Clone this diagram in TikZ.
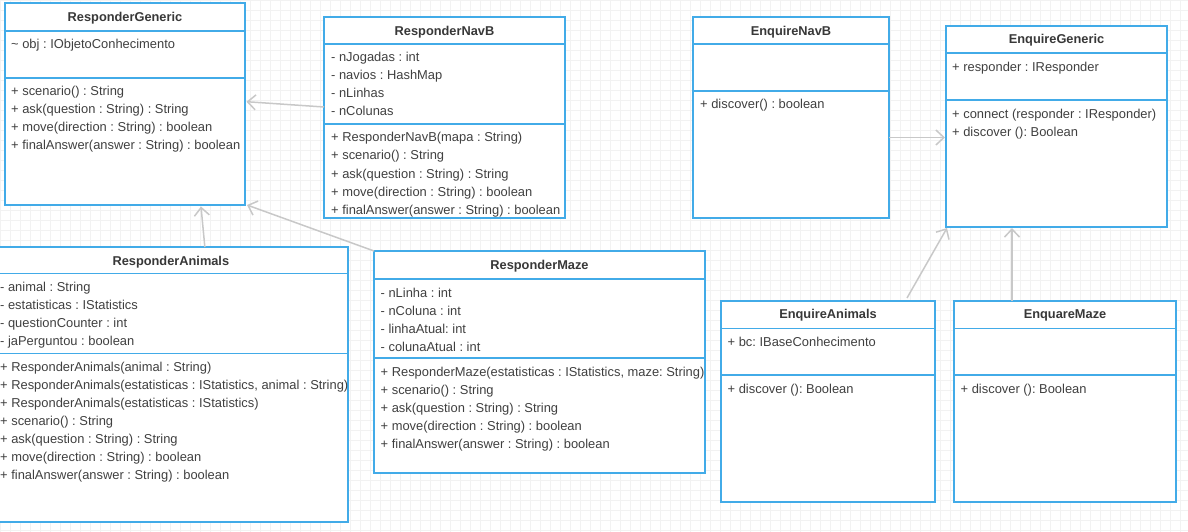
\documentclass[tikz,border=0pt]{standalone}
\usepackage{fontspec}
\setmainfont{Liberation Sans}
\usetikzlibrary{arrows.meta,calc}
\definecolor{umlblue}{RGB}{66,171,232}
\definecolor{linkgray}{RGB}{200,200,200}
\definecolor{gridgray}{RGB}{242,242,242}
\definecolor{textgray}{RGB}{64,64,64}
\frenchspacing

\begin{document}
\begin{tikzpicture}
    [x=1pt, y=-1pt,
    umlclass/.style={rectangle, draw=umlblue, line width=1.6pt, fill=white,
    anchor=north west, inner sep=0pt, outer sep=0pt},
    classname/.style={anchor=base, inner sep=0pt, text=black!78,
    font=\fontsize{12.8}{15}\selectfont\bfseries},
    member/.style={anchor=base west, inner sep=0pt, text=textgray,
    font=\fontsize{12.9}{15}\selectfont},
    compline/.style={draw=umlblue, line width=1.6pt},
    link/.style={draw=linkgray, line width=1.5pt,
    -{Straight Barb[length=8pt,width=15pt]}}]

    \useasboundingbox (0,0) rectangle (1188,532);
    \clip (0,0) rectangle (1188,532);
    \draw[gridgray, step=10pt] (0,532) grid (1188,0);

    % responder side
    \node [umlclass, minimum width=240pt, minimum height=202pt] (rg) at (5,3) {};
    \node [classname] (rg-t) at ($(rg.north)+(0,18.5)$) {ResponderGeneric};
    \draw [compline] ($(rg.north west)+(0,28)$) -- ($(rg.north east)+(0,28)$);
    \draw [compline] ($(rg.north west)+(0,75)$) -- ($(rg.north east)+(0,75)$);
    \node [member] (rg-a1) at ($(rg.north west)+(6,45.5)$) {\textasciitilde{} obj : IObjetoConhecimento};
    \foreach \m [count=\i] in {{+ scenario() : String}, {+ ask(question : String) : String},
        {+ move(direction : String) : boolean}, {+ finalAnswer(answer : String) : boolean}}
        \node [member] (rg-m\i) at ($(rg.north west)+(6,74.5+18*\i)$) {\m};

    \node [umlclass, minimum width=241pt, minimum height=201pt] (rnb) at (324,17) {};
    \node [classname] (rnb-t) at ($(rnb.north)+(0,18.3)$) {ResponderNavB};
    \draw [compline] ($(rnb.north west)+(0,27)$) -- ($(rnb.north east)+(0,27)$);
    \draw [compline] ($(rnb.north west)+(0,107)$) -- ($(rnb.north east)+(0,107)$);
    \foreach \m [count=\i] in {{- nJogadas : int}, {- navios : HashMap}, {- nLinhas}, {- nColunas}}
        \node [member] (rnb-a\i) at ($(rnb.north west)+(7,27+18*\i)$) {\m};
    \foreach \m [count=\i] in {{+ ResponderNavB(mapa : String)}, {+ scenario() : String},
        {+ ask(question : String) : String}, {+ move(direction : String) : boolean},
        {+ finalAnswer(answer : String) : boolean}}
        \node [member] (rnb-m\i) at ($(rnb.north west)+(7,107+18*\i)$) {\m};

    \node [umlclass, minimum width=353.7pt, minimum height=275pt] (ra) at (-6,247) {};
    \node [classname] (ra-t) at ($(ra.north)+(0,18)$) {ResponderAnimals};
    \draw [compline] ($(ra.north west)+(0,26.5)$) -- ($(ra.north east)+(0,26.5)$);
    \draw [compline] ($(ra.north west)+(0,106.5)$) -- ($(ra.north east)+(0,106.5)$);
    \foreach \m [count=\i] in {{- animal : String}, {- estatisticas : IStatistics},
        {- questionCounter : int}, {- jaPerguntou : boolean}}
        \node [member] (ra-a\i) at ($(ra.north west)+(6,26.5+18*\i)$) {\m};
    \foreach \m [count=\i] in {{+ ResponderAnimals(animal : String)},
        {+ ResponderAnimals(estatisticas : IStatistics, animal : String)},
        {+ ResponderAnimals(estatisticas : IStatistics)}, {+ scenario() : String},
        {+ ask(question : String) : String}, {+ move(direction : String) : boolean},
        {+ finalAnswer(answer : String) : boolean}}
        \node [member] (ra-m\i) at ($(ra.north west)+(6,106.5+18*\i)$) {\m};

    \node [umlclass, minimum width=331pt, minimum height=222pt] (rm) at (374,251) {};
    \node [classname] (rm-t) at ($(rm.north)+(0,18.5)$) {ResponderMaze};
    \draw [compline] ($(rm.north west)+(0,28)$) -- ($(rm.north east)+(0,28)$);
    \draw [compline] ($(rm.north west)+(0,107)$) -- ($(rm.north east)+(0,107)$);
    \foreach \m [count=\i] in {{- nLinha : int}, {- nColuna : int}, {- linhaAtual: int},
        {- colunaAtual : int}}
        \node [member] (rm-a\i) at ($(rm.north west)+(6.5,28+18*\i)$) {\m};
    \foreach \m [count=\i] in {{+ ResponderMaze(estatisticas : IStatistics, maze: String)},
        {+ scenario() : String}, {+ ask(question : String) : String},
        {+ move(direction : String) : boolean}, {+ finalAnswer(answer : String) : boolean}}
        \node [member] (rm-m\i) at ($(rm.north west)+(6.5,107+18*\i)$) {\m};

    % enquirer side
    \node [umlclass, minimum width=196pt, minimum height=201pt] (enb) at (693,17) {};
    \node [classname] (enb-t) at ($(enb.north)+(0,18.3)$) {EnquireNavB};
    \draw [compline] ($(enb.north west)+(0,27)$) -- ($(enb.north east)+(0,27)$);
    \draw [compline] ($(enb.north west)+(0,74)$) -- ($(enb.north east)+(0,74)$);
    \node [member] (enb-m1) at ($(enb.north west)+(7,92)$) {+ discover() : boolean};

    \node [umlclass, minimum width=221pt, minimum height=201pt] (eg) at (946,26) {};
    \node [classname] (eg-t) at ($(eg.north)+(0,18)$) {EnquireGeneric};
    \draw [compline] ($(eg.north west)+(0,27)$) -- ($(eg.north east)+(0,27)$);
    \draw [compline] ($(eg.north west)+(0,74)$) -- ($(eg.north east)+(0,74)$);
    \node [member] (eg-a1) at ($(eg.north west)+(6,46)$) {+ responder : IResponder};
    \node [member] (eg-m1) at ($(eg.north west)+(6,92)$) {+ connect (responder : IResponder)};
    \node [member] (eg-m2) at ($(eg.north west)+(6,110)$) {+ discover (): Boolean};

    \node [umlclass, minimum width=214pt, minimum height=201pt] (ea) at (721,301) {};
    \node [classname] (ea-t) at ($(ea.north)+(0,17)$) {EnquireAnimals};
    \draw [compline] ($(ea.north west)+(0,27.5)$) -- ($(ea.north east)+(0,27.5)$);
    \draw [compline] ($(ea.north west)+(0,74)$) -- ($(ea.north east)+(0,74)$);
    \node [member] (ea-a1) at ($(ea.north west)+(6.5,45.5)$) {+ bc: IBaseConhecimento};
    \node [member] (ea-m1) at ($(ea.north west)+(6.5,92)$) {+ discover (): Boolean};

    \node [umlclass, minimum width=222pt, minimum height=201pt] (em) at (954,301) {};
    \node [classname] (em-t) at ($(em.north)+(0,17)$) {EnquareMaze};
    \draw [compline] ($(em.north west)+(0,27.5)$) -- ($(em.north east)+(0,27.5)$);
    \draw [compline] ($(em.north west)+(0,74)$) -- ($(em.north east)+(0,74)$);
    \node [member] (em-m1) at ($(em.north west)+(6.5,92)$) {+ discover (): Boolean};

    \begin{scope}[every path/.style=link]
        \path ($(rnb.west)+(0,-10.5)$) -- ($(rg.east)+(1.5,-2.3)$);
        \path ($(ra.north)+(34,0)$) -- ($(rg.south)+(76,1.5)$);
        \path (rm.north west) -- ($(rg.south east)+(2,0)$);
        \path ($(enb.east)+(0,20)$) -- ($(eg.west)+(-1,11)$);
        \path ($(ea.north)+(79,-3)$) -- ($(eg.south west)+(1,1)$);
        \path ($(em.north)+(-53,0)$) -- ($(eg.south)+(-44.5,1)$);
    \end{scope}
\end{tikzpicture}
\end{document}
